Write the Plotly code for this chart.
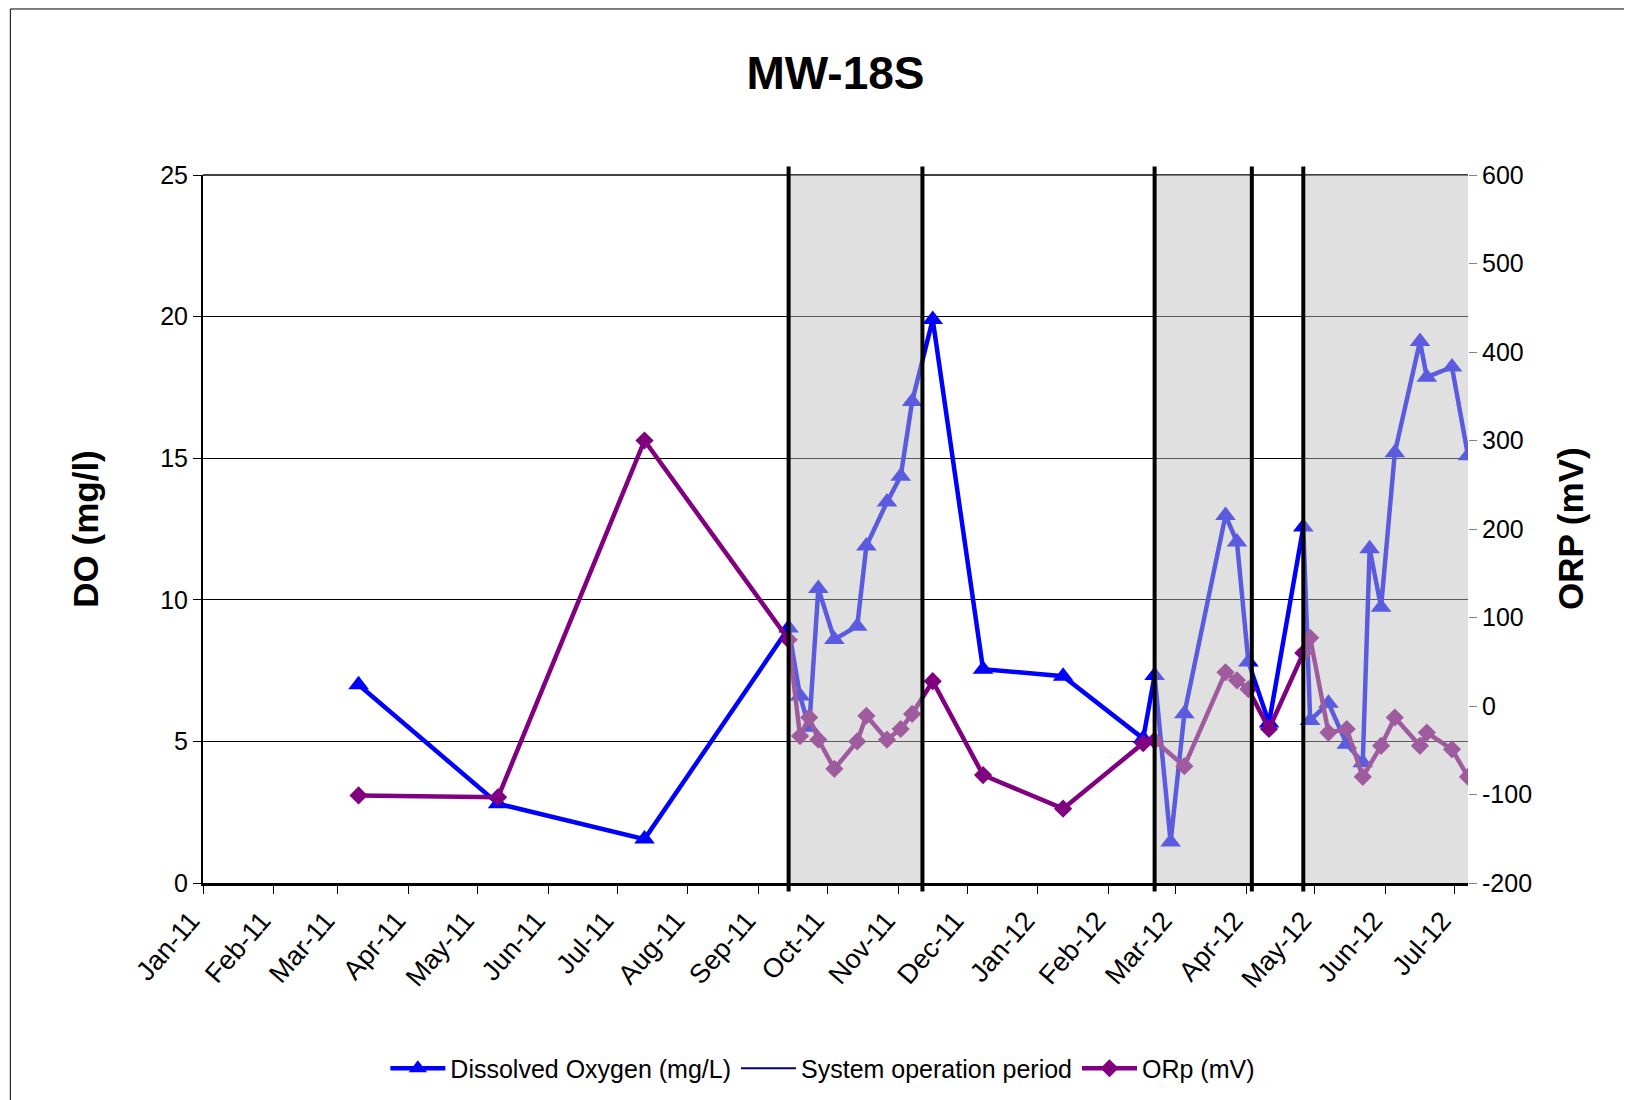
import plotly.graph_objects as go

# sampling dates shared by both series (None = not measured)
dates = [
    "2011-03-10", "2011-05-10", "2011-07-13", "2011-09-14", "2011-09-19",
    "2011-09-23", "2011-09-27", "2011-10-04", "2011-10-14", "2011-10-18",
    "2011-10-27", "2011-11-02", "2011-11-07", "2011-11-16", "2011-12-08",
    "2012-01-12", "2012-02-16", "2012-02-21", "2012-02-28", "2012-03-05",
    "2012-03-23", "2012-03-28", "2012-04-02", "2012-04-11", "2012-04-26",
    "2012-04-29", "2012-05-07", "2012-05-15", "2012-05-22", "2012-05-25",
    "2012-05-30", "2012-06-05", "2012-06-16", "2012-06-19", "2012-06-30",
    "2012-07-07",
]
do_mgl = [
    7.0, 2.8, 1.55, 9.0, 6.6,
    5.5, 10.4, 8.6, 9.07, 11.9,
    13.45, 14.36, 17.0, 19.9, 7.55,
    7.3, 5.1, 7.33, 1.45, 5.98,
    12.98, 12.04, 7.8, 5.65, 12.57,
    5.74, 6.35, 4.9, 4.25, 11.8,
    9.74, 15.19, 19.12, 17.86, 18.22,
    15.09,
]
orp_mv = [
    -101, -103, 300, 75, -34,
    -13, -38, -71, -40, -11,
    -38, -26, -9, 28, -78,
    -116, -42, -39, None, -68,
    38, 29, 19, -26, 60,
    77, -30, -26, -80, None,
    -45, -13, -45, -30, -49,
    -80,
]

# right axis ticks (plain hyphen minus like the original)
orp_ticks = [-200, -100, 0, 100, 200, 300, 400, 500, 600]
orp_labels = ["-200", "-100", "0", "100", "200", "300", "400", "500", "600"]

# system operation periods (shaded) and the boundary markers
period_start = ["2011-09-14", "2012-02-21", "2012-04-26"]
period_end = ["2011-11-11 12:00", "2012-04-03 12:00", "2012-07-07"]
boundary_lines = ["2011-09-14", "2011-11-11 12:00", "2012-02-21",
                  "2012-04-03 12:00", "2012-04-26"]

FONT = "Arial, Liberation Sans, sans-serif"

fig = go.Figure()

fig.add_trace(go.Scatter(
    x=dates, y=do_mgl,
    name="Dissolved Oxygen (mg/L)",
    mode="lines+markers",
    line=dict(color="#0000FF", width=4.5),
    marker=dict(symbol="triangle-up", size=18, color="#0000FF", line=dict(width=0)),
    yaxis="y",
))
fig.add_trace(go.Scatter(
    x=[None], y=[None],
    name="System operation period",
    mode="lines",
    line=dict(color="#000080", width=2),
))
fig.add_trace(go.Scatter(
    x=dates, y=orp_mv,
    name="ORp (mV)",
    mode="lines+markers",
    connectgaps=True,
    line=dict(color="#800080", width=4.5),
    marker=dict(symbol="diamond", size=14, color="#800080", line=dict(width=0)),
    yaxis="y2",
))

shapes = []
for s, e in zip(period_start, period_end):
    shapes.append(dict(type="rect", xref="x", yref="paper", x0=s, x1=e, y0=0, y1=1,
                       fillcolor="rgba(190,190,190,0.48)", line=dict(width=0),
                       layer="above"))
for d in boundary_lines:
    shapes.append(dict(type="line", xref="x", yref="paper", x0=d, x1=d,
                       y0=-0.012, y1=1.012, line=dict(color="black", width=4),
                       layer="above"))
# top edge of plot area
shapes.append(dict(type="line", xref="paper", yref="paper", x0=0, x1=1, y0=1, y1=1,
                   line=dict(color="black", width=1.5), layer="below"))
# outer chart border
shapes.append(dict(type="rect", xref="paper", yref="paper", x0=-0.1523, x1=1.3,
                   y0=-0.45, y1=1.2345, line=dict(color="black", width=1),
                   fillcolor="rgba(0,0,0,0)", layer="below"))

fig.update_layout(
    width=1632, height=1100,
    margin=dict(l=195, r=172, t=167, b=225),
    paper_bgcolor="white", plot_bgcolor="white",
    font=dict(family=FONT, color="black", size=24),
    title=dict(text="<b>MW-18S</b>", x=0.5, xref="paper", xanchor="center",
               y=0.941, yref="container", yanchor="middle",
               font=dict(size=46, family=FONT, color="black")),
    showlegend=True,
    legend=dict(orientation="h", x=0.49, xanchor="center", y=-0.262, yanchor="middle",
                font=dict(size=25), itemwidth=55, bgcolor="rgba(0,0,0,0)"),
    shapes=shapes,
    xaxis=dict(
        type="date", range=["2011-01-01", "2012-07-07"],
        tick0="2011-01-01", dtick="M1", tickformat="%b-%y",
        tickangle=-49, ticks="outside", ticklen=8, tickcolor="black",
        ticklabelshift=-12,
        showline=True, linecolor="black", linewidth=3,
        showgrid=False, zeroline=False, tickfont=dict(size=27),
    ),
    yaxis=dict(
        range=[0, 25], dtick=5, ticks="outside", ticklen=8, tickcolor="black",
        showline=True, linecolor="black", linewidth=2,
        showgrid=True, gridcolor="black", gridwidth=1, zeroline=False,
        tickfont=dict(size=25),
    ),
    yaxis2=dict(
        range=[-200, 600], tickvals=orp_ticks, ticktext=orp_labels,
        overlaying="y", side="right",
        ticks="outside", ticklen=8, tickcolor="#808080",
        showline=False, showgrid=False, zeroline=False,
        tickfont=dict(size=25),
    ),
    annotations=[
        dict(text="<b>DO (mg/l)</b>", xref="paper", yref="paper", x=-0.0935, y=0.5,
             textangle=-90, showarrow=False, xanchor="center", yanchor="middle",
             font=dict(size=35, family=FONT, color="black")),
        dict(text="<b>ORP (mV)</b>", xref="paper", yref="paper", x=1.0807, y=0.5,
             textangle=-90, showarrow=False, xanchor="center", yanchor="middle",
             font=dict(size=35, family=FONT, color="black")),
    ],
)

fig.write_html("out.html")
